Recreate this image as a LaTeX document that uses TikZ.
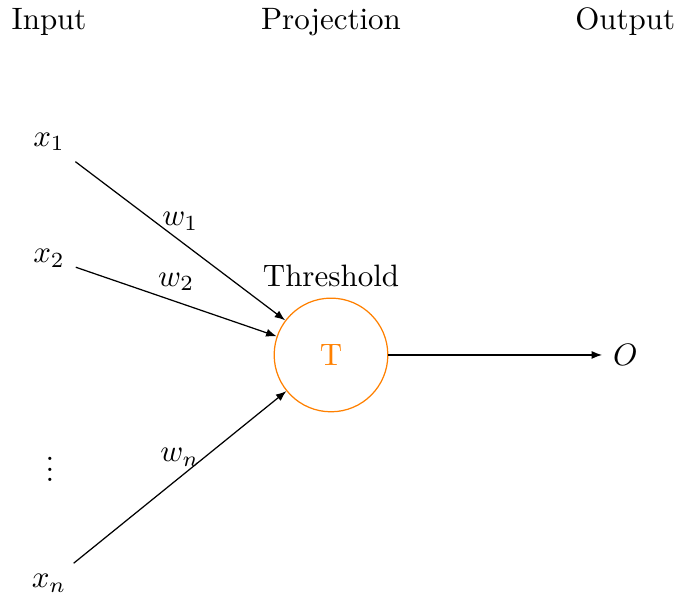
\documentclass[tikz,border=0pt]{standalone}
\usepackage{xcolor}
\definecolor{cUnit}{HTML}{FF8000}
\definecolor{cMain}{HTML}{000000}
\usepackage{tikz}
\usetikzlibrary{positioning,arrows.meta}
\newcommand{\tightvdots}{\vbox{\baselineskip3.4pt\lineskiplimit0pt\hbox{.}\hbox{.}\hbox{.}}}
\tikzset{
  node-var/.style={inner sep=3.33pt},
  node-head/.style={inner sep=3.33pt},
  node-unit/.style={draw=cUnit,circle,minimum size=12.9mm,text=cUnit},
  arrow/.style={-{Latex[length=3.4pt,width=2.6pt]},draw=cMain},
}

\begin{document}
\begin{tikzpicture}
  \useasboundingbox (-3.757,-2.781) rectangle (3.916,4.029);
  % column headings
  \node[node-head] (hin)  at (-3.20,3.78) {Input};
  \node[node-head] (hpro) at (0,3.78)     {Projection};
  \node[node-head] (hout) at (3.34,3.78)  {Output};
  % threshold unit
  \node[node-unit] (th) at (0,0) {T};
  \node[above=0pt of th] (thlab) {Threshold};
  % inputs and output
  \node[node-var] (x1)   at (-3.20,2.42)  {$x_1$};
  \node[node-var] (x2)   at (-3.20,1.10)  {$x_2$};
  \node[node-var] (dots) at (-3.19,-1.30) {\tightvdots};
  \node[node-var] (xn)   at (-3.20,-2.59) {$x_n$};
  \node[node-var] (out)  at (3.34,0)      {$O$};
  \draw[arrow] (x1) -- node[above] {$w_1$} (th);
  \draw[arrow] (x2) -- node[above] {$w_2$} (th);
  \draw[arrow] (xn) -- node[above] {$w_n$} (th);
  \draw[arrow] (th) -- (out);
\end{tikzpicture}
\end{document}
